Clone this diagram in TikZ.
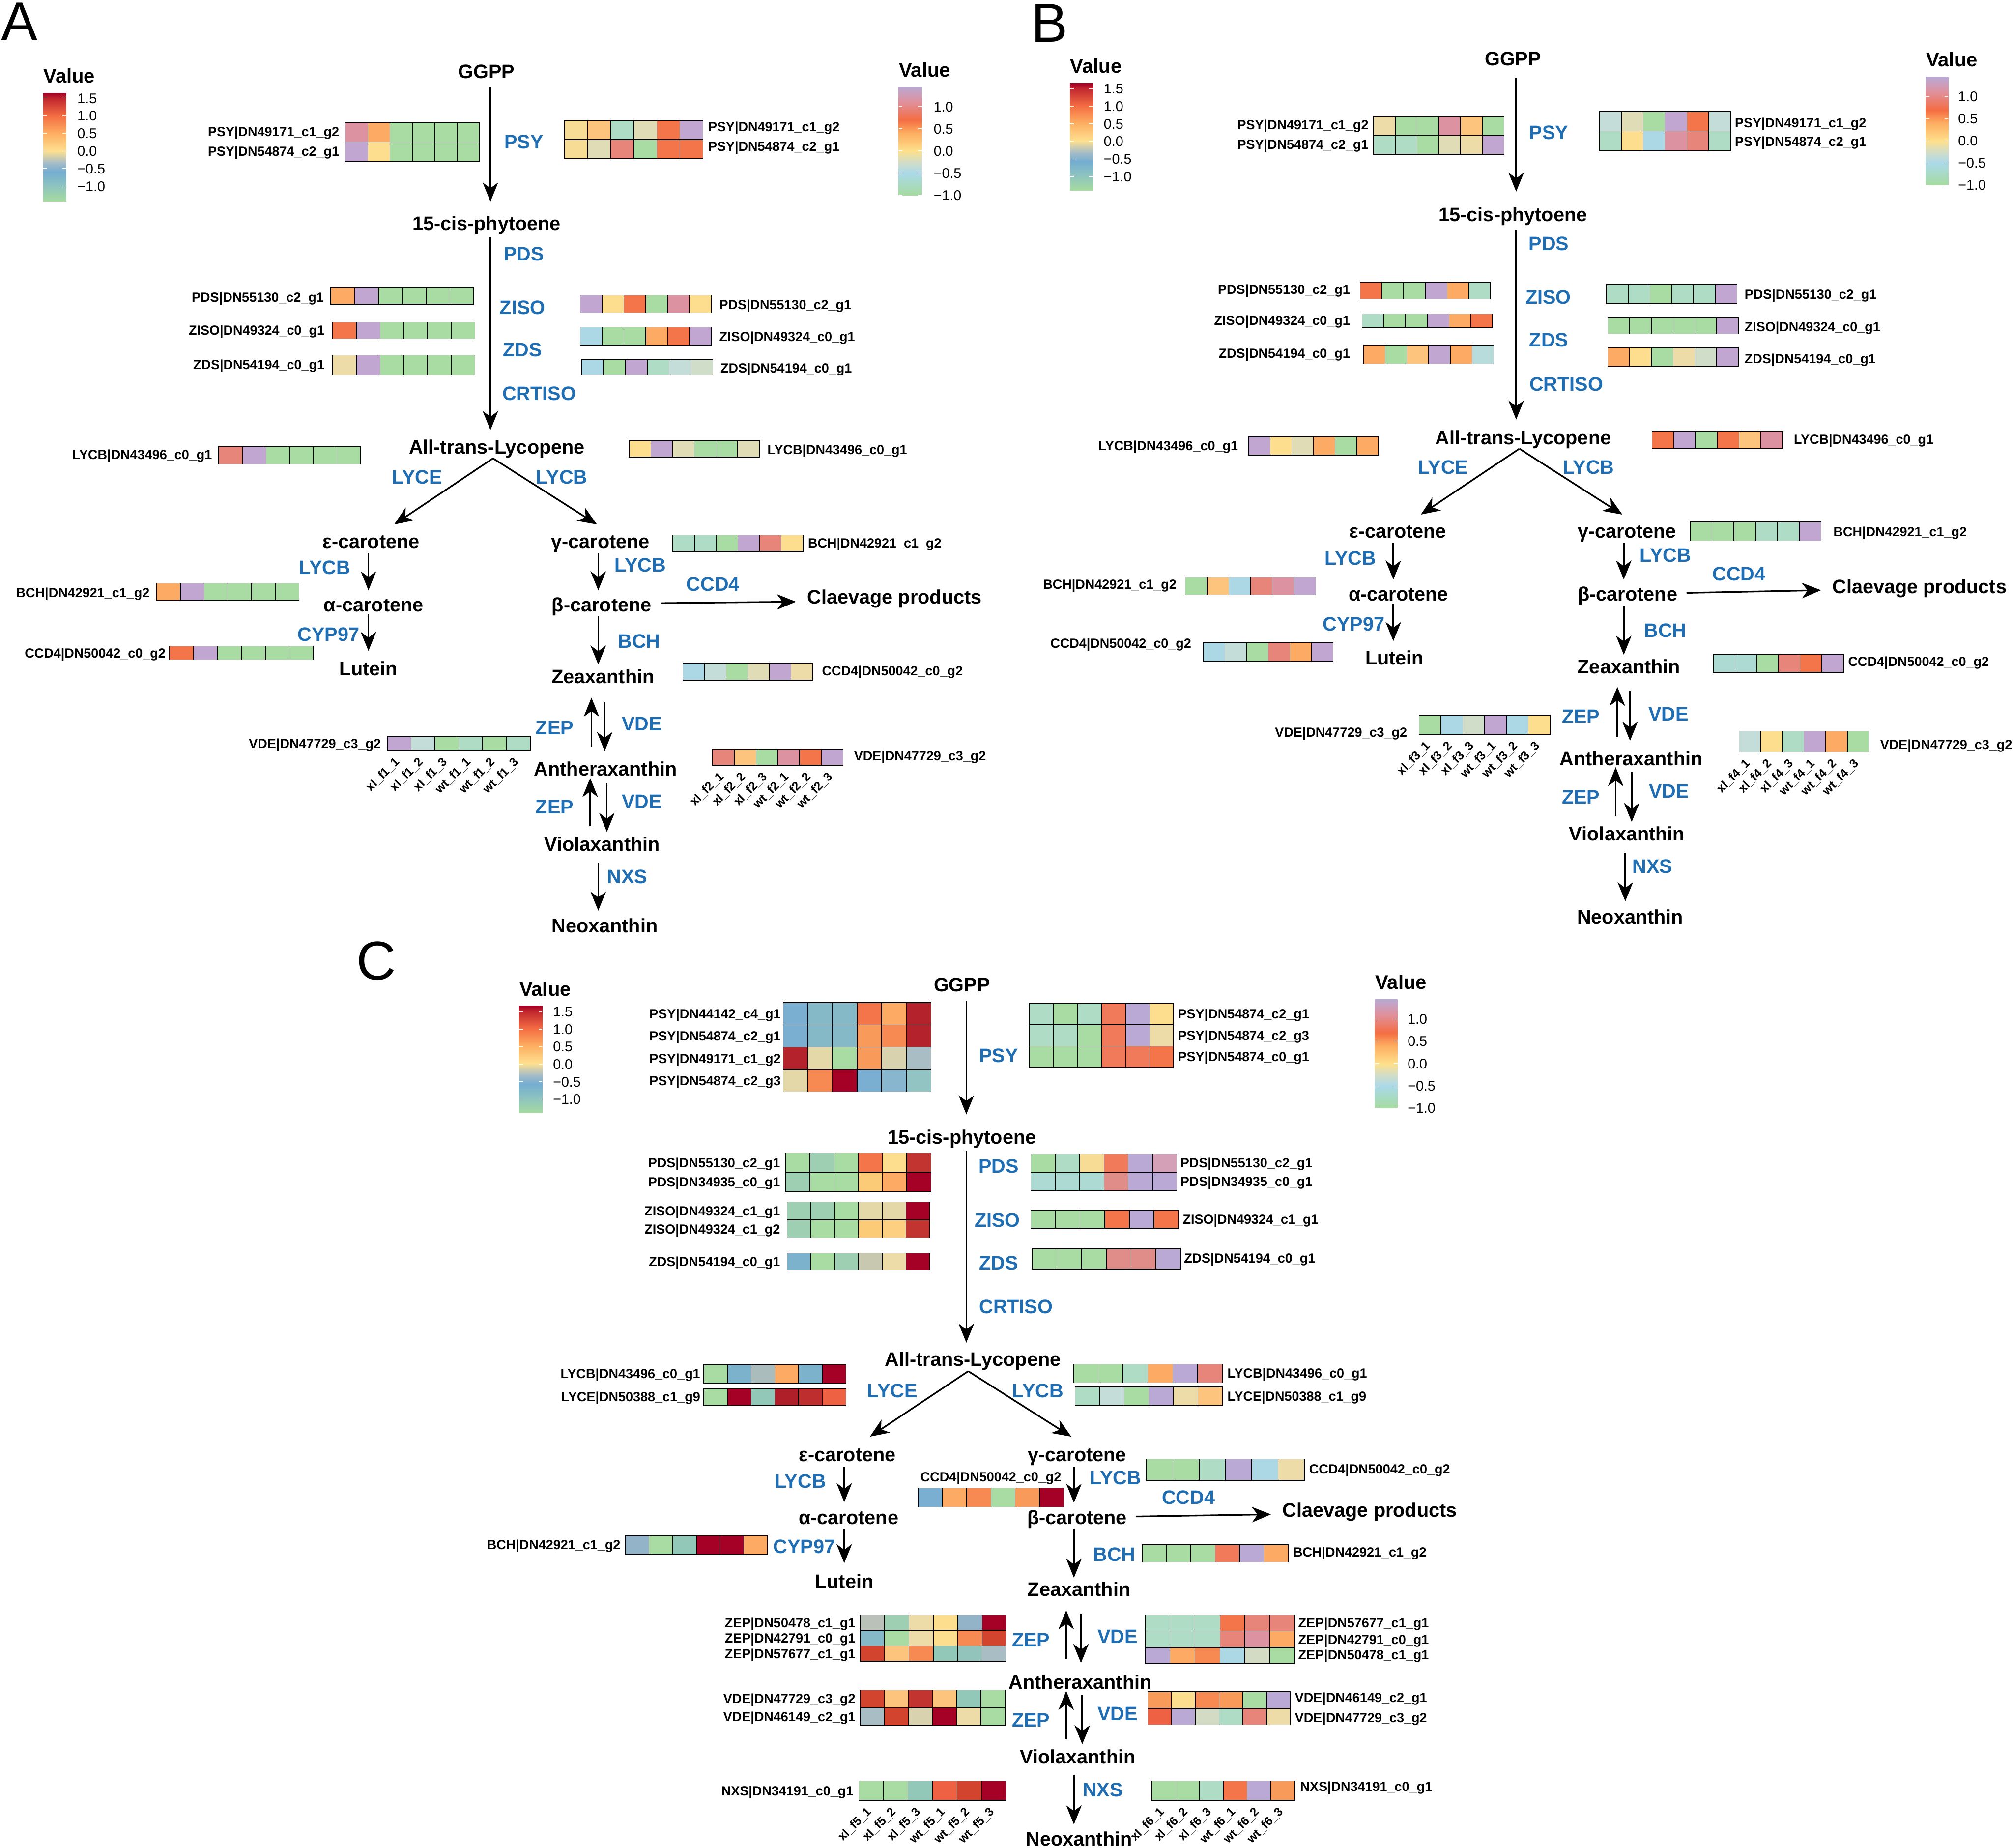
\documentclass[tikz,border=0pt]{standalone}
\usepackage{fontspec}
\setmainfont{Liberation Sans}
\usetikzlibrary{arrows.meta}
% heatmap colours
\definecolor{hG}{HTML}{A9DCA3}
\definecolor{hM}{HTML}{AFDCC5}
\definecolor{hMT}{HTML}{AEDAD4}
\definecolor{hT}{HTML}{ABD8E4}
\definecolor{hT2}{HTML}{B8DCDC}
\definecolor{hS}{HTML}{C4DDD8}
\definecolor{hS3}{HTML}{CFDDC9}
\definecolor{hS4}{HTML}{D4DBC4}
\definecolor{hB}{HTML}{E0DCB6}
\definecolor{hBY}{HTML}{EDDCA8}
\definecolor{hY}{HTML}{FCDE8E}
\definecolor{hYb}{HTML}{F7DC96}
\definecolor{hLO}{HTML}{FCC47C}
\definecolor{hO}{HTML}{FCAA64}
\definecolor{hOa}{HTML}{F89A5A}
\definecolor{hR}{HTML}{F47549}
\definecolor{hR2}{HTML}{F68A52}
\definecolor{hR4}{HTML}{EE6243}
\definecolor{hRc}{HTML}{F07A5A}
\definecolor{hSa}{HTML}{E8857B}
\definecolor{hSa2}{HTML}{E08C88}
\definecolor{hP}{HTML}{DC92A0}
\definecolor{hPc}{HTML}{D4A0B8}
\definecolor{hL}{HTML}{C2A6D2}
\definecolor{hLc}{HTML}{B9A9D4}
\definecolor{hDR}{HTML}{A50026}
\definecolor{hDR2}{HTML}{B4222B}
\definecolor{hDR3}{HTML}{AE1F2A}
\definecolor{hRd}{HTML}{C23430}
\definecolor{hRd2}{HTML}{BE2E2E}
\definecolor{hRd3}{HTML}{D3442F}
\definecolor{hBl}{HTML}{7BAFD2}
\definecolor{hBl2}{HTML}{88B6CE}
\definecolor{hBl3}{HTML}{7DB2CC}
\definecolor{hBt}{HTML}{86B9C8}
\definecolor{hBt2}{HTML}{92C4C4}
\definecolor{hTm}{HTML}{92C8B8}
\definecolor{hTm2}{HTML}{9ECFB2}
\definecolor{hTm3}{HTML}{92C4BC}
\definecolor{hGy}{HTML}{A8BEC4}
\definecolor{hGy2}{HTML}{AABCBC}
\definecolor{hGy3}{HTML}{B9C1B9}
\definecolor{hGyB}{HTML}{C8C8B0}
\definecolor{hGyB2}{HTML}{93B4C8}
\definecolor{hB2}{HTML}{E4D8A8}
\definecolor{hB3}{HTML}{D8D2AE}
\definecolor{hYO}{HTML}{FCCB78}
\definecolor{hYO2}{HTML}{FCD080}
\definecolor{enzb}{HTML}{1F6EB4}
% colour bar colours
\definecolor{cl0}{HTML}{A6DBA0}
\definecolor{cl1}{HTML}{8EC4BE}
\definecolor{cl2}{HTML}{74ADD1}
\definecolor{cl3}{HTML}{A4BCC8}
\definecolor{cl4}{HTML}{D6D0A8}
\definecolor{cl5}{HTML}{FEE090}
\definecolor{cl6}{HTML}{FDAE61}
\definecolor{cl7}{HTML}{F46D43}
\definecolor{cl8}{HTML}{C0252E}
\definecolor{cl9}{HTML}{A50026}
\definecolor{cr0}{HTML}{A6DBA0}
\definecolor{cr1}{HTML}{A8DAC4}
\definecolor{cr2}{HTML}{ABD9E9}
\definecolor{cr3}{HTML}{D3DDC6}
\definecolor{cr4}{HTML}{FEE08B}
\definecolor{cr5}{HTML}{FDAE61}
\definecolor{cr6}{HTML}{F46D43}
\definecolor{cr7}{HTML}{E0909A}
\definecolor{cr8}{HTML}{B9A9D4}
\pgfdeclareverticalshading{cbL}{100bp}{color(0bp)=(cl0); color(25bp)=(cl0); color(31.9bp)=(cl1); color(38.5bp)=(cl2); color(42.6bp)=(cl3); color(45.7bp)=(cl4); color(48.2bp)=(cl5); color(56.4bp)=(cl6); color(64.5bp)=(cl7); color(72.7bp)=(cl8); color(75bp)=(cl9); color(100bp)=(cl9)}
\pgfdeclareverticalshading{cbR}{100bp}{color(0bp)=(cr0); color(25bp)=(cr0); color(30.1bp)=(cr1); color(35.2bp)=(cr2); color(40.3bp)=(cr3); color(45.4bp)=(cr4); color(53.6bp)=(cr5); color(59.7bp)=(cr6); color(67.9bp)=(cr7); color(75bp)=(cr8); color(100bp)=(cr8)}
% fonts
\newcommand\fcmp{\fontsize{10.8}{12}\selectfont\bfseries}
\newcommand\fgene{\fontsize{7.35}{8}\selectfont\bfseries}
\newcommand\fsmp{\fontsize{6.7}{7}\selectfont\bfseries}
\newcommand\ftick{\fontsize{7.8}{8}\selectfont}
\newcommand\fval{\fontsize{10.9}{12}\selectfont\bfseries}
\newcommand\fpan{\fontsize{30.3}{32}\selectfont}
\tikzset{
 cmp/.style={font=\fcmp, inner sep=0pt, text height=7.7pt, text depth=0pt},
 enz/.style={font=\fcmp, text=enzb, inner sep=0pt, text height=7.7pt, text depth=0pt},
 gL/.style={font=\fgene, anchor=east, inner sep=0pt, text height=5.3pt, text depth=0pt},
 gR/.style={gL, anchor=west},
 gC/.style={gL, anchor=center},
 smp/.style={font=\fsmp, rotate=45, anchor=east, inner sep=0pt, text height=4.8pt, text depth=0pt},
 val/.style={font=\fval, anchor=west, inner sep=0pt, text height=7.8pt, text depth=0pt},
 tk/.style={font=\ftick, anchor=west, inner sep=0pt, text height=5.6pt, text depth=0pt},
 pan/.style={font=\fpan, inner sep=0pt, text height=21.7pt, text depth=0pt},
 hmline/.style={draw=black, line width=0.35pt},
 cbt/.style={draw=white, line width=0.35pt},
 arr/.style={line width=0.9pt, -{Stealth[length=3.7mm,width=3mm,inset=1.1mm]}},
}
% one heatmap row: x0,y0,x1,y1,colours
\newcommand\hmrow[5]{%
  \pgfmathsetmacro\hmw{(#3-#1)/6}%
  \foreach \cc [count=\ii from 0] in {#5}{%
    \filldraw[fill=\cc, hmline] ({#1+\ii*\hmw},#2) rectangle ({#1+(\ii+1)*\hmw},#4);
  }%
}
% sample labels: x0,x1,ybottom,set,name
\newcommand\smpls[5]{%
  \pgfmathsetmacro\smw{(#2-#1)/6}%
  \foreach \g/\k [count=\i from 0] in {xl/1,xl/2,xl/3,wt/1,wt/2,wt/3}{%
    \node[smp] (#5-\i) at ({#1+(\i+0.5)*\smw-1.5},{#3+7}) {\g\_f#4\_\k};
  }%
}
% legends: name,x0,ytop,x1,ybot,yValue,yfirst,step,xlabel
\newcommand\legL[9]{%
  \node[val] (#1-t) at (#2,#6) {Value};
  \shade[shading=cbL] (#2,#3) rectangle (#4,#5);
  \foreach \v [count=\i from 0] in {1.5,1.0,0.5,0.0,−0.5,−1.0}{%
    \pgfmathsetmacro\yy{#7+\i*#8}
    \draw[cbt] (#2,\yy) -- ++(3,0) (#4,\yy) -- ++(-3,0);
    \node[tk] (#1-\i) at (#9,\yy) {\v};
  }%
}
\newcommand\legR[9]{%
  \node[val] (#1-t) at (#2,#6) {Value};
  \shade[shading=cbR] (#2,#3) rectangle (#4,#5);
  \foreach \v [count=\i from 0] in {1.0,0.5,0.0,−0.5,−1.0}{%
    \pgfmathsetmacro\yy{#7+\i*#8}
    \draw[cbt] (#2,\yy) -- ++(3,0) (#4,\yy) -- ++(-3,0);
    \node[tk] (#1-\i) at (#9,\yy) {\v};
  }%
}
% arrow between two named coordinates
\newcommand\arrc[5]{\coordinate (#1s) at (#2,#3); \coordinate (#1e) at (#4,#5); \draw[arr] (#1s) -- (#1e);}
\begin{document}
\begin{tikzpicture}[x=0.25mm,y=-0.25mm]
\fill[white] (0,0) rectangle (1568,1439);
\useasboundingbox (0,0) rectangle (1568,1439);
% panel letters
\node[pan] (pA) at (15.3,16.5) {A};
\node[pan] (pB) at (817.5,17.5) {B};
\node[pan] (pC) at (293,748) {C};
% legends
\legL{lA}{33.6}{72.6}{51.6}{156.6}{59}{76.5}{13.7}{60}
\legR{rA}{700}{67.6}{718}{152}{54.3}{83}{17.25}{727}
\legL{lB}{833.4}{64.9}{851.4}{148.3}{51.3}{69.1}{13.66}{859.5}
\legR{rB}{1500}{60}{1517.6}{144}{46.2}{75.2}{17.2}{1525}
\legL{lC}{404.4}{783.6}{422.4}{867}{770.1}{788}{13.62}{430.5}
\legR{rC}{1071}{778.5}{1088.6}{863}{765}{793.7}{17.33}{1096.2}

%================ PANEL A ================
\node[cmp] (aGG) at (379,55.5) {GGPP};
\node[cmp] (aPH) at (379,174) {15-cis-phytoene};
\node[cmp] (aLY) at (387,348) {All-trans-Lycopene};
\node[cmp] (aEP) at (289,421.5) {ε-carotene};
\node[cmp] (aGA) at (467.7,421.5) {γ-carotene};
\node[cmp] (aAL) at (291,471) {α-carotene};
\node[cmp] (aBE) at (468.7,471) {β-carotene};
\node[cmp] (aLU) at (287,520.7) {Lutein};
\node[cmp] (aZE) at (469.7,527) {Zeaxanthin};
\node[cmp] (aCL) at (696.8,465) {Claevage products};
\node[cmp] (aAN) at (471.7,598.8) {Antheraxanthin};
\node[cmp] (aVI) at (469,657.4) {Violaxanthin};
\node[cmp] (aNE) at (471,721) {Neoxanthin};
\node[enz] (aE1) at (408,110.5) {PSY};
\node[enz] (aE2) at (408,197.5) {PDS};
\node[enz] (aE3) at (407,239.5) {ZISO};
\node[enz] (aE4) at (407,272.5) {ZDS};
\node[enz] (aE5) at (420,306.5) {CRTISO};
\node[enz] (aE6) at (325,371.5) {LYCE};
\node[enz] (aE7) at (437.6,371.4) {LYCB};
\node[enz] (aE8) at (253,442) {LYCB};
\node[enz] (aE9) at (256,494) {CYP97};
\node[enz] (aE10) at (498.8,440) {LYCB};
\node[enz] (aE11) at (555.4,455) {CCD4};
\node[enz] (aE12) at (497.8,499.2) {BCH};
\node[enz] (aE13) at (432,566.7) {ZEP};
\node[enz] (aE14) at (500,563.7) {VDE};
\node[enz] (aE15) at (432,628.5) {ZEP};
\node[enz] (aE16) at (500,624) {VDE};
\node[enz] (aE17) at (488.7,682.6) {NXS};
\arrc{A1}{382}{68}{382}{157}
\arrc{A2}{382}{185}{382}{335}
\arrc{A3}{384}{357}{307}{408.5}
\arrc{A4}{384}{357}{465}{408.5}
\arrc{A5}{287}{430.7}{287}{459.8}
\arrc{A6}{287}{478}{287}{507}
\arrc{A7}{466}{430.7}{466}{459.8}
\arrc{A8}{514.8}{469.8}{620}{468.7}
\arrc{A9}{466}{479.6}{466}{517.6}
\arrc{A10}{460.7}{581.6}{460.7}{543.4}
\arrc{A11}{471}{546.5}{471}{585}
\arrc{A12}{459.7}{643.6}{459.7}{606}
\arrc{A13}{472.7}{609.8}{472.7}{648}
\arrc{A14}{466}{671.8}{466}{709.3}
% heatmaps A
\hmrow{269}{95.3}{373.5}{110.5}{hP,hO,hG,hG,hG,hG}
\hmrow{269}{110.5}{373.5}{125.8}{hL,hY,hG,hG,hG,hG}
\node[gL] (gA1) at (264.5,102.6) {PSY|DN49171\_c1\_g2};
\node[gL] (gA2) at (264.5,117.9) {PSY|DN54874\_c2\_g1};
\hmrow{439.6}{93.8}{547.5}{108.75}{hYb,hLO,hM,hB,hR,hL}
\hmrow{439.6}{108.75}{547.5}{123.7}{hYb,hB,hSa,hG,hR,hR}
\node[gR] (gA3) at (551.4,98.5) {PSY|DN49171\_c1\_g2};
\node[gR] (gA4) at (551.4,113.8) {PSY|DN54874\_c2\_g1};
\hmrow{257.6}{223.6}{369}{237}{hO,hL,hG,hG,hG,hG}
\node[gL] (gA5) at (252.5,231.5) {PDS|DN55130\_c2\_g1};
\hmrow{259}{251}{370}{264}{hR,hL,hG,hG,hG,hG}
\node[gL] (gA6) at (253,257.3) {ZISO|DN49324\_c0\_g1};
\hmrow{259}{276.6}{370}{292.3}{hBY,hL,hG,hG,hG,hG}
\node[gL] (gA7) at (253,284) {ZDS|DN54194\_c0\_g1};
\hmrow{452}{230}{554}{243.6}{hL,hY,hR,hG,hP,hY}
\node[gR] (gA8) at (560,237.3) {PDS|DN55130\_c2\_g1};
\hmrow{452}{254.8}{554}{269}{hT,hG,hG,hO,hR,hL}
\node[gR] (gA9) at (560,262.2) {ZISO|DN49324\_c0\_g1};
\hmrow{453}{280}{555.4}{292}{hT,hG,hL,hM,hS,hS3}
\node[gR] (gA10) at (561,286.5) {ZDS|DN54194\_c0\_g1};
\hmrow{170.4}{347.6}{280.7}{361.5}{hSa,hL,hG,hG,hG,hG}
\node[gL] (gA11) at (165.4,354) {LYCB|DN43496\_c0\_g1};
\hmrow{490}{343}{591.5}{356}{hY,hL,hB,hG,hG,hB}
\node[gR] (gA12) at (597.5,350) {LYCB|DN43496\_c0\_g1};
\hmrow{524}{416.8}{625.5}{429.5}{hM,hM,hG,hL,hSa,hY}
\node[gR] (gA13) at (629.1,422.8) {BCH|DN42921\_c1\_g2};
\hmrow{122}{454.3}{233}{467.7}{hO,hL,hG,hG,hG,hG}
\node[gL] (gA14) at (116.8,461.5) {BCH|DN42921\_c1\_g2};
\hmrow{132}{503.3}{244}{513.8}{hR,hL,hG,hG,hG,hG}
\node[gL] (gA15) at (129.3,508.7) {CCD4|DN50042\_c0\_g2};
\hmrow{532}{516.4}{633}{529.8}{hT,hS,hG,hB,hL,hBY}
\node[gR] (gA16) at (640,522.5) {CCD4|DN50042\_c0\_g2};
\hmrow{301.6}{573.7}{413}{584.6}{hL,hS,hG,hM,hG,hM}
\node[gL] (gA17) at (297,579.2) {VDE|DN47729\_c3\_g2};
\smpls{301.6}{413}{584.6}{1}{sA1}
\hmrow{555}{583.5}{656.7}{596}{hSa,hLO,hG,hP,hR,hL}
\node[gR] (gA18) at (665,588.5) {VDE|DN47729\_c3\_g2};
\smpls{555}{656.7}{596}{2}{sA2}

%================ PANEL B ================
\node[cmp] (bGG) at (1178.5,45.6) {GGPP};
\node[cmp] (bPH) at (1178.5,167) {15-cis-phytoene};
\node[cmp] (bLY) at (1186.5,340.7) {All-trans-Lycopene};
\node[cmp] (bEP) at (1088.8,413.4) {ε-carotene};
\node[cmp] (bGA) at (1267.3,413.4) {γ-carotene};
\node[cmp] (bAL) at (1089.3,462.7) {α-carotene};
\node[cmp] (bBE) at (1267.8,462.7) {β-carotene};
\node[cmp] (bLU) at (1086.3,512.4) {Lutein};
\node[cmp] (bZE) at (1268.8,519.2) {Zeaxanthin};
\node[cmp] (bCL) at (1495.2,456.7) {Claevage products};
\node[cmp] (bAN) at (1270.6,590.9) {Antheraxanthin};
\node[cmp] (bVI) at (1267.3,649.5) {Violaxanthin};
\node[cmp] (bNE) at (1269.8,714.2) {Neoxanthin};
\node[enz] (bE1) at (1206.4,103) {PSY};
\node[enz] (bE2) at (1206.4,189.5) {PDS};
\node[enz] (bE3) at (1206,231.4) {ZISO};
\node[enz] (bE4) at (1206.4,264.5) {ZDS};
\node[enz] (bE5) at (1220,299.2) {CRTISO};
\node[enz] (bE6) at (1124,364) {LYCE};
\node[enz] (bE7) at (1237.4,364) {LYCB};
\node[enz] (bE8) at (1051.8,434.6) {LYCB};
\node[enz] (bE9) at (1054.4,486) {CYP97};
\node[enz] (bE10) at (1297.2,432.2) {LYCB};
\node[enz] (bE11) at (1354.6,446.7) {CCD4};
\node[enz] (bE12) at (1297.2,491) {BCH};
\node[enz] (bE13) at (1231.4,558) {ZEP};
\node[enz] (bE14) at (1299.6,555.8) {VDE};
\node[enz] (bE15) at (1231.4,620.6) {ZEP};
\node[enz] (bE16) at (1300,616) {VDE};
\node[enz] (bE17) at (1287.2,674.8) {NXS};
\arrc{B1}{1181}{60.5}{1181}{149.3}
\arrc{B2}{1181}{179}{1181}{326.8}
\arrc{B3}{1183.5}{349.5}{1106.7}{400.8}
\arrc{B4}{1183.5}{349.5}{1263.7}{400.8}
\arrc{B5}{1085.3}{422.6}{1085.3}{451.4}
\arrc{B6}{1085.3}{470}{1085.3}{499.3}
\arrc{B7}{1264.8}{422.6}{1264.8}{451.4}
\arrc{B8}{1313.7}{461.8}{1418.4}{459.7}
\arrc{B9}{1264.8}{471.8}{1264.8}{510}
\arrc{B10}{1259.8}{573.9}{1259.8}{535}
\arrc{B11}{1269.7}{538}{1269.7}{577}
\arrc{B12}{1258.5}{635.6}{1258.5}{597.6}
\arrc{B13}{1271}{601.4}{1271}{640.2}
\arrc{B14}{1266}{664}{1266}{702}
% heatmaps B
\hmrow{1070}{90.7}{1171.6}{105.45}{hBY,hG,hG,hP,hLO,hG}
\hmrow{1070}{105.45}{1171.6}{120.2}{hM,hM,hG,hB,hBY,hL}
\node[gL] (gB1) at (1066.3,97) {PSY|DN49171\_c1\_g2};
\node[gL] (gB2) at (1066.3,112.4) {PSY|DN54874\_c2\_g1};
\hmrow{1245.8}{86.9}{1348}{102.05}{hS,hB,hG,hL,hR,hS}
\hmrow{1245.8}{102.05}{1348}{117.2}{hM,hY,hT,hP,hSa,hM}
\node[gR] (gB3) at (1351.1,95.5) {PSY|DN49171\_c1\_g2};
\node[gR] (gB4) at (1351.1,110.2) {PSY|DN54874\_c2\_g1};
\hmrow{1059.3}{220}{1161}{233}{hR,hG,hG,hL,hO,hM}
\node[gL] (gB5) at (1051.8,225.5) {PDS|DN55130\_c2\_g1};
\hmrow{1061}{244.4}{1162.6}{255.3}{hM,hG,hG,hL,hO,hR}
\node[gL] (gB6) at (1051.8,249.5) {ZISO|DN49324\_c0\_g1};
\hmrow{1062}{268.7}{1163.5}{283.4}{hO,hG,hLO,hL,hO,hT2}
\node[gL] (gB7) at (1051.8,275) {ZDS|DN54194\_c0\_g1};
\hmrow{1251.4}{221.5}{1353}{236.6}{hM,hM,hG,hM,hM,hL}
\node[gR] (gB8) at (1358.6,229.3) {PDS|DN55130\_c2\_g1};
\hmrow{1252.4}{247.3}{1354}{260}{hG,hG,hG,hG,hG,hL}
\node[gR] (gB9) at (1358.6,254.3) {ZISO|DN49324\_c0\_g1};
\hmrow{1252.4}{270.6}{1354}{285.3}{hO,hY,hG,hBY,hS3,hL}
\node[gR] (gB10) at (1358.6,279.2) {ZDS|DN54194\_c0\_g1};
\hmrow{972.5}{340.2}{1073.8}{354.5}{hL,hY,hB,hO,hG,hO}
\node[gL] (gB11) at (964.6,347) {LYCB|DN43496\_c0\_g1};
\hmrow{1286.7}{336}{1388.4}{349.5}{hR,hL,hG,hR,hLO,hP}
\node[gR] (gB12) at (1397,342) {LYCB|DN43496\_c0\_g1};
\hmrow{1316.6}{406.6}{1418.4}{421.4}{hG,hG,hG,hM,hM,hL}
\node[gR] (gB13) at (1427.8,414) {BCH|DN42921\_c1\_g2};
\hmrow{923.2}{449.7}{1024.9}{463.5}{hG,hLO,hT,hSa,hP,hL}
\node[gL] (gB14) at (916.7,455) {BCH|DN42921\_c1\_g2};
\hmrow{937.2}{500.4}{1038.4}{515}{hT,hS,hG,hSa,hO,hL}
\node[gL] (gB15) at (928.2,501) {CCD4|DN50042\_c0\_g2};
\hmrow{1334.6}{509.8}{1435.9}{523.7}{hMT,hMT,hG,hSa,hR,hL}
\node[gR] (gB16) at (1439.3,515) {CCD4|DN50042\_c0\_g2};
\hmrow{1105.3}{557}{1207.5}{572}{hG,hT,hS3,hL,hT,hY}
\node[gL] (gB17) at (1096.3,570.3) {VDE|DN47729\_c3\_g2};
\smpls{1105.3}{1207.5}{572}{3}{sB1}
\hmrow{1354.6}{569.5}{1455.8}{585.8}{hS,hY,hM,hL,hO,hG}
\node[gR] (gB18) at (1464.3,580) {VDE|DN47729\_c3\_g2};
\smpls{1354.6}{1455.8}{585.8}{4}{sB2}

%================ PANEL C ================
\node[cmp] (cGG) at (749.3,767) {GGPP};
\node[cmp] (cPH) at (749.3,885.7) {15-cis-phytoene};
\node[cmp] (cLY) at (757.8,1058.7) {All-trans-Lycopene};
\node[cmp] (cEP) at (660,1132.7) {ε-carotene};
\node[cmp] (cGA) at (839,1132.7) {γ-carotene};
\node[cmp] (cAL) at (661,1181.9) {α-carotene};
\node[cmp] (cBE) at (839,1181.9) {β-carotene};
\node[cmp] (cLU) at (657.6,1231.7) {Lutein};
\node[cmp] (cZE) at (840.5,1237.6) {Zeaxanthin};
\node[cmp] (cCL) at (1067,1176) {Claevage products};
\node[cmp] (cAN) at (841.5,1310) {Antheraxanthin};
\node[cmp] (cVI) at (839.5,1368.2) {Violaxanthin};
\node[cmp] (cNE) at (840.5,1432.3) {Neoxanthin};
\node[enz] (cE1) at (777.8,822) {PSY};
\node[enz] (cE2) at (777.8,908.3) {PDS};
\node[enz] (cE3) at (776.9,950.2) {ZISO};
\node[enz] (cE4) at (777.8,983.5) {ZDS};
\node[enz] (cE5) at (791.4,1017.8) {CRTISO};
\node[enz] (cE6) at (695,1083) {LYCE};
\node[enz] (cE7) at (808.5,1083) {LYCB};
\node[enz] (cE8) at (623.4,1153.4) {LYCB};
\node[enz] (cE9) at (626.4,1204.4) {CYP97};
\node[enz] (cE10) at (869,1151) {LYCB};
\node[enz] (cE11) at (925.7,1166) {CCD4};
\node[enz] (cE12) at (868,1210.4) {BCH};
\node[enz] (cE13) at (803,1277.2) {ZEP};
\node[enz] (cE14) at (870.6,1274.4) {VDE};
\node[enz] (cE15) at (803,1339.7) {ZEP};
\node[enz] (cE16) at (870.6,1334.5) {VDE};
\node[enz] (cE17) at (859,1393.8) {NXS};
\arrc{C1}{752.7}{779.3}{752.7}{868}
\arrc{C2}{752.7}{896.4}{752.7}{1045.8}
\arrc{C3}{754.2}{1068}{677.6}{1119}
\arrc{C4}{754.2}{1068}{834.5}{1119}
\arrc{C5}{657.6}{1142.3}{657.6}{1170}
\arrc{C6}{657.6}{1190.9}{657.6}{1217.5}
\arrc{C7}{836.5}{1142.3}{836.5}{1170.5}
\arrc{C8}{884.6}{1181.2}{990}{1179.5}
\arrc{C9}{836.5}{1190.7}{836.5}{1228.9}
\arrc{C10}{830.5}{1292}{830.5}{1254.2}
\arrc{C11}{842}{1256.6}{842}{1295.3}
\arrc{C12}{830.5}{1354.7}{830.5}{1317}
\arrc{C13}{843}{1320.3}{843}{1358.6}
\arrc{C14}{836.5}{1382.4}{836.5}{1421}
% heatmaps C
\hmrow{610}{780.9}{725.2}{798.25}{hBl,hBt,hBt,hR,hO,hDR2}
\hmrow{610}{798.25}{725.2}{815.6}{hBl,hBt,hBt,hOa,hR2,hDR2}
\hmrow{610}{815.6}{725.2}{832.95}{hDR2,hB2,hG,hOa,hB3,hGy}
\hmrow{610}{832.95}{725.2}{850.3}{hB2,hR2,hDR,hBl,hBl2,hBt2}
\node[gL] (gC1) at (608.4,789.6) {PSY|DN44142\_c4\_g1};
\node[gL] (gC2) at (608.4,807) {PSY|DN54874\_c2\_g1};
\node[gL] (gC3) at (608.4,824.3) {PSY|DN49171\_c1\_g2};
\node[gL] (gC4) at (608.4,841.7) {PSY|DN54874\_c2\_g3};
\hmrow{801.9}{781.5}{914.2}{798.13}{hM,hG,hM,hRc,hLc,hY}
\hmrow{801.9}{798.13}{914.2}{814.77}{hM,hM,hG,hRc,hLc,hBY}
\hmrow{801.9}{814.77}{914.2}{831.4}{hG,hG,hG,hRc,hRc,hR}
\node[gR] (gC5) at (917.2,789.8) {PSY|DN54874\_c2\_g1};
\node[gR] (gC6) at (917.2,806.5) {PSY|DN54874\_c2\_g3};
\node[gR] (gC7) at (917.2,823.1) {PSY|DN54874\_c0\_g1};
\hmrow{612}{898}{725.2}{913}{hG,hTm2,hG,hR,hY,hRd}
\hmrow{612}{913}{725.2}{928}{hTm2,hG,hG,hYO,hO,hDR}
\node[gL] (gC8) at (608,905.5) {PDS|DN55130\_c2\_g1};
\node[gL] (gC9) at (608,920.5) {PDS|DN34935\_c0\_g1};
\hmrow{613}{936.2}{724.2}{950.15}{hTm2,hTm2,hG,hB2,hB2,hDR}
\hmrow{613}{950.15}{724.2}{964.1}{hTm2,hG,hG,hYO,hYO2,hRd}
\node[gL] (gC10) at (608,943.2) {ZISO|DN49324\_c1\_g1};
\node[gL] (gC11) at (608,957.2) {ZISO|DN49324\_c1\_g2};
\hmrow{613}{976}{724.2}{989.5}{hBl3,hG,hTm2,hGyB,hBY,hDR}
\node[gL] (gC12) at (608,982.5) {ZDS|DN54194\_c0\_g1};
\hmrow{803}{898.6}{916.7}{913.1}{hG,hM,hYb,hRc,hLc,hPc}
\hmrow{803}{913.1}{916.7}{927.6}{hMT,hMT,hMT,hSa2,hLc,hLc}
\node[gR] (gC13) at (919.2,905.6) {PDS|DN55130\_c2\_g1};
\node[gR] (gC14) at (919.2,920) {PDS|DN34935\_c0\_g1};
\hmrow{803}{942.6}{918}{956.6}{hG,hG,hG,hR,hLc,hR}
\node[gR] (gC15) at (921,949.6) {ZISO|DN49324\_c1\_g1};
\hmrow{804}{972.7}{919.7}{988.4}{hG,hG,hG,hSa2,hSa2,hLc}
\node[gR] (gC16) at (922,980) {ZDS|DN54194\_c0\_g1};
\hmrow{548.2}{1063}{659}{1077.4}{hG,hBl3,hGy2,hO,hBl3,hDR}
\node[gL] (gC17) at (545.7,1070) {LYCB|DN43496\_c0\_g1};
\hmrow{548.2}{1081.6}{659}{1094.6}{hG,hDR,hTm,hDR3,hRd2,hR4}
\node[gL] (gC18) at (545.7,1088) {LYCE|DN50388\_c1\_g9};
\hmrow{836}{1062.5}{952.3}{1077}{hG,hG,hM,hO,hLc,hSa}
\node[gR] (gC19) at (955.8,1069.5) {LYCB|DN43496\_c0\_g1};
\hmrow{837.5}{1080.3}{952.3}{1094.6}{hM,hS,hG,hLc,hBY,hLO}
\node[gR] (gC20) at (955.8,1087.5) {LYCE|DN50388\_c1\_g9};
\hmrow{487}{1196}{598}{1210.8}{hGyB2,hG,hTm,hDR,hDR,hO}
\node[gL] (gC21) at (483.6,1203) {BCH|DN42921\_c1\_g2};
\hmrow{715.2}{1159}{828.5}{1174}{hBl,hO,hR2,hG,hOa,hDR}
\node[gC] (gC22) at (771.8,1150.3) {CCD4|DN50042\_c0\_g2};
\hmrow{893}{1136.4}{1016}{1153}{hG,hG,hM,hLc,hT,hBY}
\node[gR] (gC23) at (1019.5,1144) {CCD4|DN50042\_c0\_g2};
\hmrow{889.6}{1203.2}{1003.4}{1216.7}{hG,hG,hG,hRc,hLc,hO}
\node[gR] (gC24) at (1006.9,1209) {BCH|DN42921\_c1\_g2};
\hmrow{670}{1257.8}{783.9}{1269.83}{hGy3,hTm2,hBY,hY,hGyB2,hDR}
\hmrow{670}{1269.83}{783.9}{1281.87}{hBt,hG,hBY,hY,hR2,hRd3}
\hmrow{670}{1281.87}{783.9}{1293.9}{hRd3,hLO,hR2,hTm,hTm3,hGy}
\node[gL] (gC25) at (666.6,1263.8) {ZEP|DN50478\_c1\_g1};
\node[gL] (gC26) at (666.6,1275.8) {ZEP|DN42791\_c0\_g1};
\node[gL] (gC27) at (666.6,1287.9) {ZEP|DN57677\_c1\_g1};
\hmrow{892}{1257.8}{1008.4}{1270.47}{hM,hM,hM,hR,hSa,hSa}
\hmrow{892}{1270.47}{1008.4}{1283.13}{hM,hM,hM,hSa,hP,hO}
\hmrow{892}{1283.13}{1008.4}{1295.8}{hLc,hO,hR2,hT,hS4,hG}
\node[gR] (gC28) at (1011,1264) {ZEP|DN57677\_c1\_g1};
\node[gR] (gC29) at (1011,1277) {ZEP|DN42791\_c0\_g1};
\node[gR] (gC30) at (1011,1289) {ZEP|DN50478\_c1\_g1};
\hmrow{670}{1316.4}{782.9}{1330.15}{hRd3,hLO,hRd,hLO,hTm,hG}
\hmrow{670}{1330.15}{782.9}{1343.9}{hGy,hRd3,hB3,hDR,hBY,hG}
\node[gL] (gC31) at (666.6,1323) {VDE|DN47729\_c3\_g2};
\node[gL] (gC32) at (666.6,1337) {VDE|DN46149\_c2\_g1};
\hmrow{894}{1317.6}{1005}{1330.6}{hOa,hY,hR2,hOa,hG,hLc}
\hmrow{894}{1330.6}{1005}{1343.6}{hR4,hLc,hS4,hM,hSa,hBY}
\node[gR] (gC33) at (1008.4,1322) {VDE|DN46149\_c2\_g1};
\node[gR] (gC34) at (1008.4,1338) {VDE|DN47729\_c3\_g2};
\hmrow{669}{1387.2}{783.9}{1402.2}{hG,hG,hTm,hR4,hRd3,hDR}
\node[gL] (gC35) at (665,1394.7) {NXS|DN34191\_c0\_g1};
\smpls{669}{783.9}{1402.2}{5}{sC1}
\hmrow{897.2}{1387.2}{1008.4}{1402.2}{hG,hG,hM,hR,hLc,hOa}
\node[gR] (gC36) at (1012.5,1391.6) {NXS|DN34191\_c0\_g1};
\smpls{897.2}{1008.4}{1402.2}{6}{sC2}
\end{tikzpicture}
\end{document}
